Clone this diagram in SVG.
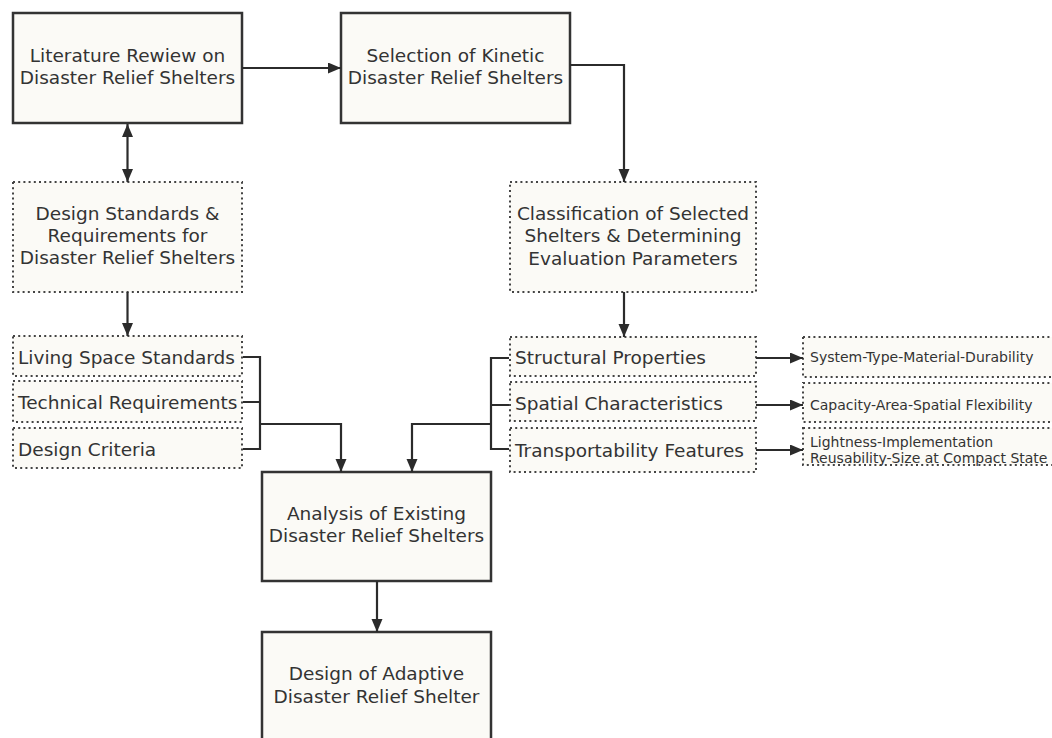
<svg xmlns="http://www.w3.org/2000/svg" width="1052" height="738" viewBox="0 0 1052 738">
<defs>
<marker id="ah" markerUnits="userSpaceOnUse" markerWidth="14" markerHeight="12" refX="13" refY="5.5" orient="auto-start-reverse">
<path d="M0,0 L13,5.5 L0,11 z" fill="#2b2b2b"/>
</marker>
</defs>
<style>
.solid{fill:#fbfaf6;stroke:#333;stroke-width:2.5}
.dot{fill:#fbfaf6;stroke:#444;stroke-width:2;stroke-dasharray:2 3.2}
.t{font-family:"DejaVu Sans",Verdana,sans-serif;font-size:18.5px;fill:#333}
.c{text-anchor:middle}
.s{font-family:"DejaVu Sans",Verdana,sans-serif;font-size:14px;fill:#333}
.ln{fill:none;stroke:#2b2b2b;stroke-width:2.2}
.ar{marker-end:url(#ah)}
</style>
<rect width="1052" height="738" fill="#ffffff"/>

<g id="literature">
<rect class="solid" x="13" y="13" width="229" height="110"/>
<text class="t c" x="127.5" y="61.5">Literature Rewiew on</text>
<text class="t c" x="127.5" y="83.5">Disaster Relief Shelters</text>
</g>

<g id="selection">
<rect class="solid" x="341" y="13" width="229" height="110"/>
<text class="t c" x="455.5" y="61.5">Selection of Kinetic</text>
<text class="t c" x="455.5" y="84">Disaster Relief Shelters</text>
</g>

<g id="design-standards">
<rect class="dot" x="13" y="182" width="229" height="110"/>
<text class="t c" x="127.5" y="219.5">Design Standards &amp;</text>
<text class="t c" x="127.5" y="241.5">Requirements for</text>
<text class="t c" x="127.5" y="263.5">Disaster Relief Shelters</text>
</g>

<g id="classification">
<rect class="dot" x="510" y="182" width="246" height="110"/>
<text class="t c" x="633" y="219.5">Classification of Selected</text>
<text class="t c" x="633" y="242">Shelters &amp; Determining</text>
<text class="t c" x="633" y="264.5">Evaluation Parameters</text>
</g>

<g id="left-group">
<rect class="dot" x="13" y="336" width="229" height="40"/>
<rect class="dot" x="13" y="381" width="229" height="41"/>
<rect class="dot" x="13" y="428" width="229" height="40"/>
<text class="t" x="18" y="363.5">Living Space Standards</text>
<text class="t" x="18" y="409">Technical Requirements</text>
<text class="t" x="18" y="455.5">Design Criteria</text>
</g>

<g id="middle-group">
<rect class="dot" x="510" y="337" width="246" height="39"/>
<rect class="dot" x="510" y="382" width="246" height="39"/>
<rect class="dot" x="510" y="428" width="246" height="44"/>
<text class="t" x="515" y="363.5">Structural Properties</text>
<text class="t" x="515" y="409.5">Spatial Characteristics</text>
<text class="t" x="515" y="456.5">Transportability Features</text>
</g>

<g id="right-group">
<rect class="dot" x="803" y="337" width="260" height="40"/>
<rect class="dot" x="803" y="383" width="260" height="39"/>
<rect class="dot" x="803" y="428" width="260" height="37"/>
<text class="s" x="810" y="362">System-Type-Material-Durability</text>
<text class="s" x="810" y="410">Capacity-Area-Spatial Flexibility</text>
<text class="s" x="810" y="447">Lightness-Implementation</text>
<text class="s" x="810" y="463">Reusability-Size at Compact State</text>
</g>

<g id="analysis">
<rect class="solid" x="262" y="472" width="229" height="109"/>
<text class="t c" x="376.5" y="519.5">Analysis of Existing</text>
<text class="t c" x="376.5" y="541.5">Disaster Relief Shelters</text>
</g>

<g id="design">
<rect class="solid" x="262" y="632" width="229" height="120"/>
<text class="t c" x="376.5" y="679.5">Design of Adaptive</text>
<text class="t c" x="376.5" y="702.5">Disaster Relief Shelter</text>
</g>

<g id="connectors">
<path class="ln ar" d="M242,68 H341"/>
<path class="ln ar" d="M570,65 H624 V182"/>
<path class="ln ar" d="M127.5,124 V182" marker-start="url(#ah)"/>
<path class="ln ar" d="M127.5,292 V336"/>
<path class="ln ar" d="M624,292 V337"/>
<path class="ln" d="M243,357 H260 V449 H243 M243,402 H260"/>
<path class="ln ar" d="M260,424 H341 V472"/>
<path class="ln" d="M509,358 H491 V449 H509 M491,405 H509"/>
<path class="ln ar" d="M491,424 H412 V472"/>
<path class="ln ar" d="M756,358 H803"/>
<path class="ln ar" d="M756,405 H803"/>
<path class="ln ar" d="M756,450 H803"/>
<path class="ln ar" d="M377,581 V632"/>
</g>
</svg>
